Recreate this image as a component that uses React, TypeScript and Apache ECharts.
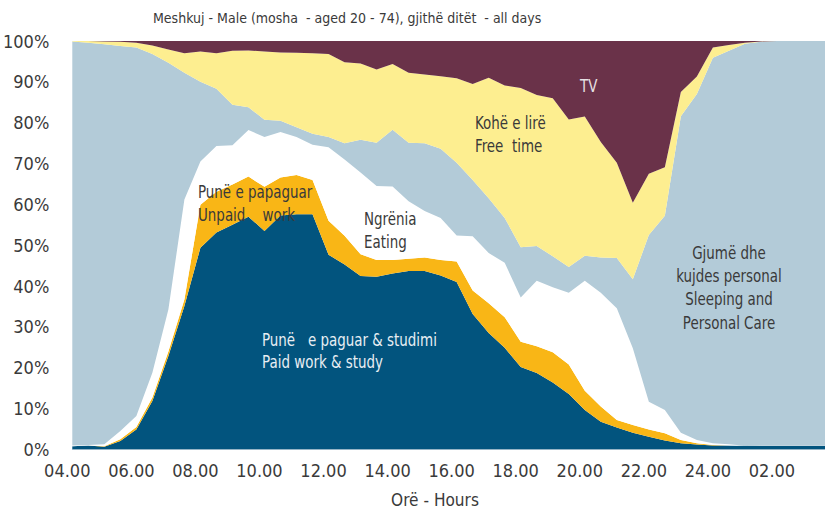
import React, { useEffect, useRef } from "react";
import * as echarts from "echarts";

const categories = ["04.00","04.30","05.00","05.30","06.00","06.30","07.00","07.30","08.00","08.30","09.00","09.30","10.00","10.30","11.00","11.30","12.00","12.30","13.00","13.30","14.00","14.30","15.00","15.30","16.00","16.30","17.00","17.30","18.00","18.30","19.00","19.30","20.00","20.30","21.00","21.30","22.00","22.30","23.00","23.30","24.00","00.30","01.00","01.30","02.00","02.30","03.00","03.30"];

const paidWork = [0.8,1.0,0.7,2.1,4.9,11.9,22.9,35.1,49.4,53.1,55.0,57.0,53.5,57.3,57.6,57.6,47.7,45.3,42.5,42.3,43.1,43.7,43.7,42.6,41.0,33.2,28.5,24.9,20.2,18.7,16.4,13.6,9.7,6.8,5.4,4.1,3.1,2.2,1.5,1.2,1.0,1.0,0.9,1.0,1.0,1.0,1.0,1.0];
const unpaidWork = [0,0,0.1,0.4,0.6,0.8,1.1,1.6,10.5,10.0,9.9,9.8,10.8,9.3,9.6,8.4,8.3,7.0,5.3,4.1,3.3,3.0,3.3,3.8,5.0,5.7,7.3,7.5,6.2,6.6,7.4,7.2,4.7,3.7,1.8,1.9,1.8,1.8,0.8,0.3,0.1,0,0,0,0,0,0,0];
const eating = [0.2,0.1,0.5,2.0,2.7,6.1,10.3,24.5,10.6,11.2,9.6,11.4,12.2,11.1,9.3,8.6,18.0,18.7,20.0,18.1,18.0,14.1,11.4,10.3,6.4,13.3,12.3,13.3,10.8,16.0,15.9,17.6,26.9,27.9,27.4,18.8,6.8,5.7,1.8,0.8,0.4,0.3,0,0.1,0.1,0.1,0.1,0.1];
const sleepCare = [98.9,98.5,97.9,94.3,90.2,78.0,60.4,31.0,19.5,14.0,9.9,5.6,4.2,2.8,2.4,2.7,2.5,4.0,8.0,10.6,13.9,14.3,16.6,16.9,17.8,13.8,13.4,11.0,12.3,8.5,7.6,6.3,6.1,8.6,12.3,16.9,40.8,47.5,77.5,84.7,94.4,96.3,98.4,98.7,98.9,98.9,98.9,98.9];
const freeTime = [0.1,0.4,0.7,1.0,1.2,2.1,3.2,4.8,7.4,8.7,13.2,13.9,16.7,16.7,18.2,19.7,20.3,19.8,18.7,17.9,16.1,17.1,16.8,17.8,20.7,23.5,29.5,32.4,39.0,37.0,38.7,36.1,34.1,28.3,23.3,18.7,15.0,11.9,5.9,4.3,2.5,1.4,0.3,0.1,0,0,0,0];
const tv = [0,0,0.1,0.2,0.4,1.1,2.1,3.0,2.6,3.0,2.4,2.3,2.6,2.8,2.9,3.0,3.2,5.2,5.5,7.0,5.6,7.8,8.2,8.6,9.1,10.5,9.0,10.9,11.5,13.2,14.0,19.2,18.5,24.7,29.8,39.6,32.5,30.9,12.5,8.7,1.6,1.0,0.4,0.1,0,0,0,0];

const FONT = "'Liberation Sans Narrow', 'Arial Narrow', 'DejaVu Sans Condensed', sans-serif";
const TEXT = "#3a3a3a";

function area(name: string, data: number[], color: string) {
  return {
    name,
    type: "line",
    stack: "all",
    data,
    symbol: "none",
    silent: true,
    lineStyle: { width: 0 },
    areaStyle: { color, opacity: 1 },
    emphasis: { disabled: true },
  };
}

function label(text: string, x: number, y: number, color: string = TEXT, align: string = "left", sx: number = 0.83) {
  return {
    type: "text",
    x,
    y,
    scaleX: sx,
    z: 100,
    silent: true,
    style: {
      text,
      fill: color,
      fontSize: 18,
      fontFamily: FONT,
      align,
      verticalAlign: "middle",
    },
  };
}

export default function App() {
  const ref = useRef<HTMLDivElement>(null);
  useEffect(() => {
    const chart = echarts.init(ref.current!, null, { renderer: "svg" });
    chart.setOption({
      animation: false,
      backgroundColor: "#ffffff",
      title: {
        text: "Meshkuj - Male (mosha  - aged 20 - 74), gjithë ditët  - all days",
        left: 148,
        top: 6,
        textStyle: { fontFamily: FONT, fontSize: 14, fontWeight: "normal", color: TEXT },
      },
      grid: { left: 69, right: -10, top: 41, bottom: 62.5, containLabel: false },
      xAxis: {
        type: "category",
        boundaryGap: false,
        data: categories,
        axisTick: { show: false },
        axisLine: { lineStyle: { color: "#c9d6df", width: 1 } },
        axisLabel: { interval: 3, fontFamily: FONT, fontSize: 18, color: TEXT, margin: 12, padding: [0, 10, 0, 0] },
      },
      yAxis: {
        type: "value",
        min: 0,
        max: 100,
        interval: 10,
        splitLine: { show: false },
        axisLine: { show: false },
        axisTick: { show: false },
        axisLabel: { formatter: "{value}%", fontFamily: FONT, fontSize: 18, color: TEXT, margin: 23, padding: [4, 0, 0, 0] },
      },
      series: [
        area("Paid work & study", paidWork, "#02547e"),
        area("Unpaid work", unpaidWork, "#f9b616"),
        area("Eating", eating, "#ffffff"),
        area("Sleeping and Personal Care", sleepCare, "#b3cbd8"),
        area("Free time", freeTime, "#fdee90"),
        area("TV", tv, "#6a3249"),
      ],
      graphic: {
        elements: [
          label("Orë - Hours", 435, 500, TEXT, "center", 0.95),
          label("TV", 580, 86, "#e6e0e4"),
          label("Kohë e lirë", 475, 123),
          label("Free  time", 475, 146),
          label("Punë e papaguar", 198, 192),
          label("Unpaid    work", 198, 215),
          label("Ngrënia", 364, 219),
          label("Eating", 364, 242),
          label("Punë   e paguar & studimi", 262, 340, "#e8eef3"),
          label("Paid work & study", 262, 362, "#e8eef3"),
          label("Gjumë dhe", 729, 253, TEXT, "center"),
          label("kujdes personal", 729, 276, TEXT, "center"),
          label("Sleeping and", 729, 299, TEXT, "center"),
          label("Personal Care", 729, 323, TEXT, "center"),
        ],
      },
    });
    return () => chart.dispose();
  }, []);
  return <div ref={ref} style={{ position: "absolute", left: 0, top: 0, width: 825, height: 512 }} />;
}
